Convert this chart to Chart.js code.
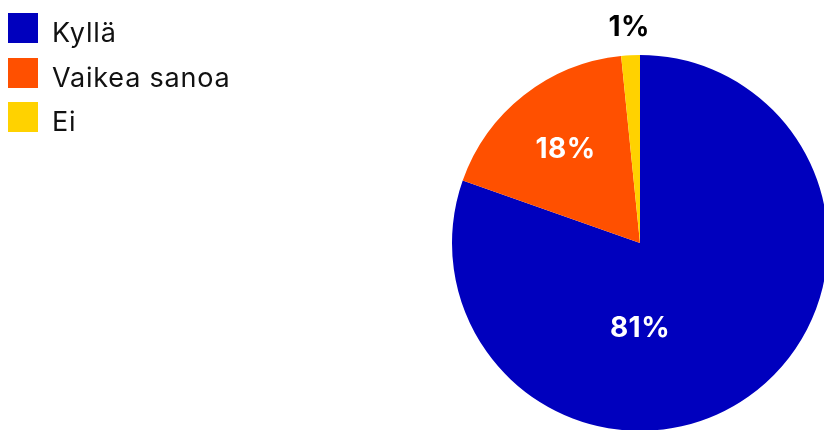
<!DOCTYPE html>
<html>
<head>
<meta charset="utf-8">
<script src="https://cdn.jsdelivr.net/npm/chart.js@4/dist/chart.umd.min.js"></script>
<style>
  html, body { margin: 0; padding: 0; background: #fff; overflow: hidden; }
  #wrap { position: relative; width: 824px; height: 430px; overflow: hidden; }
  canvas { position: absolute; left: 0; top: 0; }
</style>
</head>
<body>
<div id="wrap"><canvas id="c" width="840" height="440"></canvas></div>
<script>
const categories = ["Kyllä", "Vaikea sanoa", "Ei"];
const values = [80.4, 18.0, 1.6];
const valueLabels = ["81%", "18%", "1%"];
const colors = ["#0000BE", "#FF5000", "#FFD200"];

// label placement style (angle override in radians from top, distance as fraction of radius, colour)
const labelStyle = [
  { angle: Math.PI, dist: 0.45, color: "#ffffff" },
  { angle: null, dist: 0.64, color: "#ffffff" },
  { angle: null, dist: 1.15, color: "#000000" }
];

const FONT = "Inter, 'Noto Sans', sans-serif";

const sliceLabels = {
  id: 'sliceLabels',
  afterDatasetsDraw(chart) {
    const ctx = chart.ctx;
    const meta = chart.getDatasetMeta(0);
    ctx.save();
    ctx.font = "bold 28px " + FONT;
    if ('letterSpacing' in ctx) ctx.letterSpacing = "0.5px";
    ctx.textAlign = "center";
    ctx.textBaseline = "middle";
    meta.data.forEach((arc, i) => {
      const p = arc.getProps(['x', 'y', 'startAngle', 'endAngle', 'outerRadius'], true);
      const st = labelStyle[i];
      let a;
      if (st.angle !== null) {
        a = st.angle - Math.PI / 2;
      } else {
        a = (p.startAngle + p.endAngle) / 2;
      }
      const r = p.outerRadius * st.dist;
      ctx.fillStyle = st.color;
      ctx.fillText(valueLabels[i], p.x + Math.cos(a) * r, p.y + Math.sin(a) * r + 1);
    });
    ctx.restore();
  }
};

const customLegend = {
  id: 'customLegend',
  afterDraw(chart) {
    const ctx = chart.ctx;
    ctx.save();
    ctx.font = "27px " + FONT;
    if ('letterSpacing' in ctx) ctx.letterSpacing = "0.8px";
    ctx.textAlign = "left";
    ctx.textBaseline = "alphabetic";
    chart.data.labels.forEach((lab, i) => {
      const y = 13 + i * 44.5;
      ctx.fillStyle = chart.data.datasets[0].backgroundColor[i];
      ctx.fillRect(8, Math.round(y), 30, 30);
      ctx.fillStyle = "#111111";
      ctx.fillText(lab, 52, y + 29);
    });
    ctx.restore();
  }
};

new Chart(document.getElementById('c'), {
  type: 'pie',
  data: {
    labels: categories,
    datasets: [{
      data: values,
      backgroundColor: colors,
      borderWidth: 0,
      hoverOffset: 0
    }]
  },
  options: {
    responsive: false,
    animation: false,
    rotation: 0,
    layout: { padding: { left: 452, top: 55, right: 12, bottom: 9 } },
    plugins: {
      legend: { display: false },
      tooltip: { enabled: false }
    }
  },
  plugins: [sliceLabels, customLegend]
});
</script>
</body>
</html>
